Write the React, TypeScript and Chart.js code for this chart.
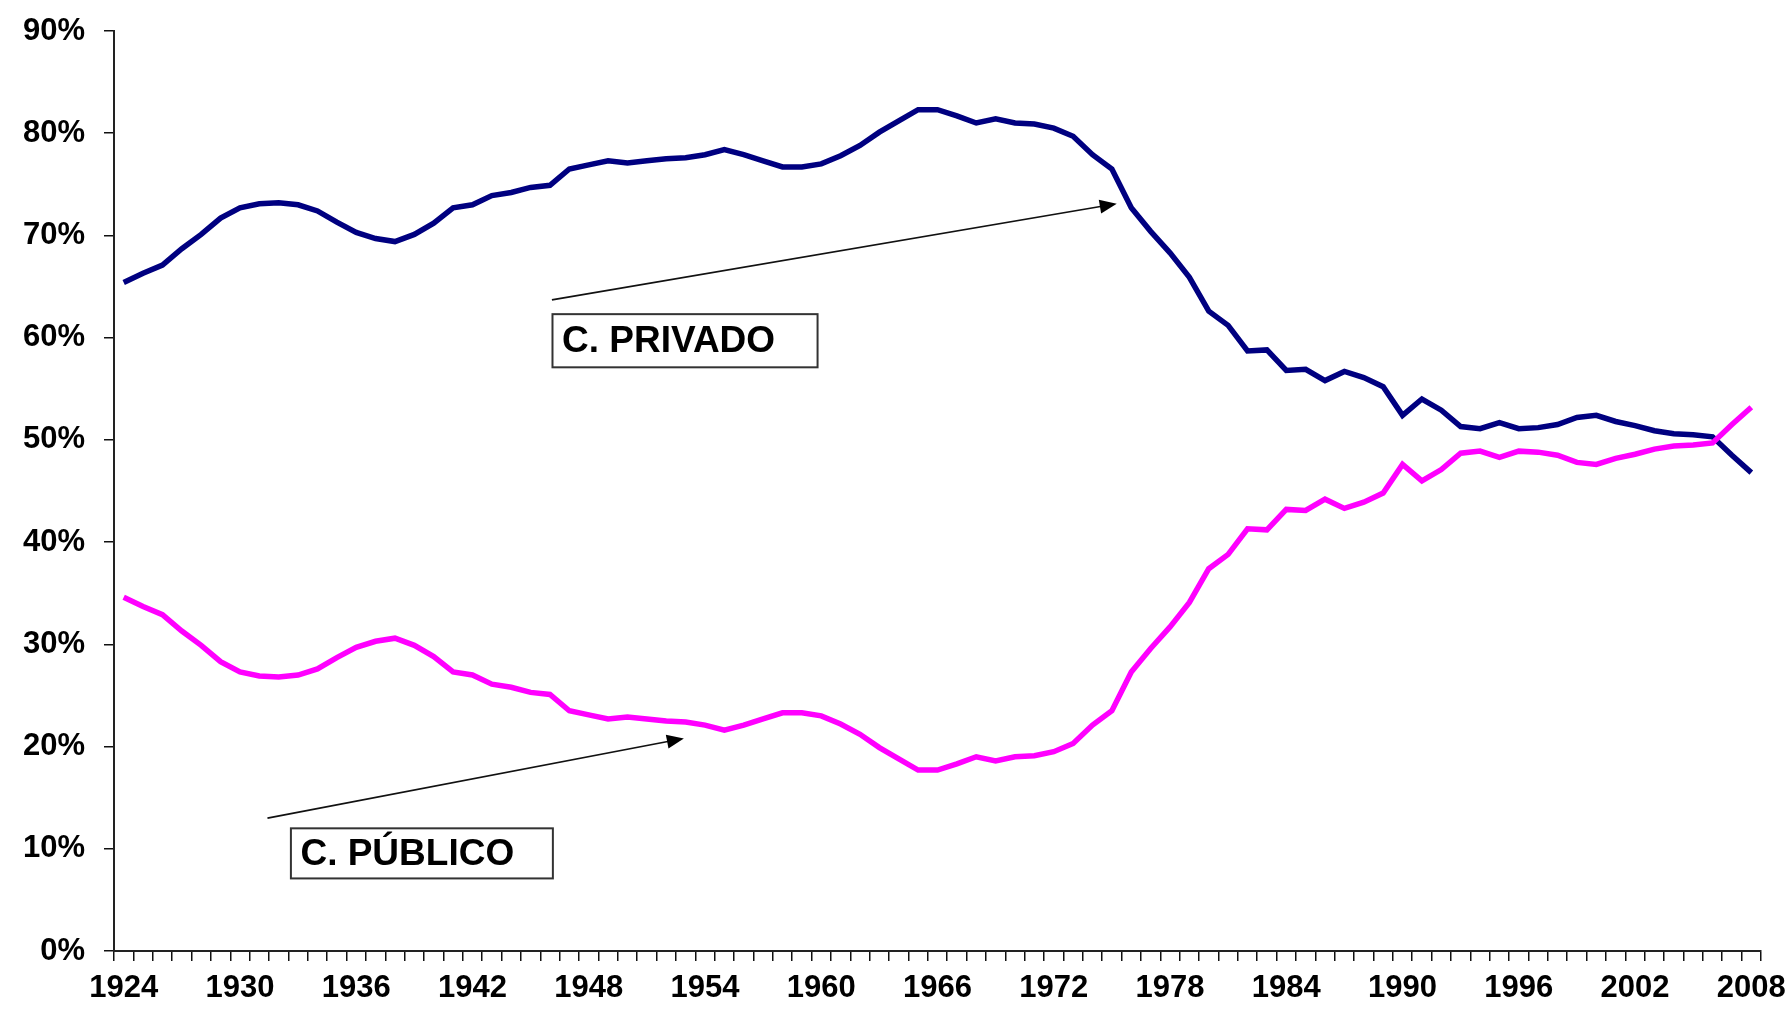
import React, { useEffect, useRef } from 'react';
import { Chart, registerables } from 'chart.js';

Chart.register(...registerables);

const years = [
  1924, 1925, 1926, 1927, 1928, 1929, 1930, 1931, 1932, 1933, 1934, 1935, 1936, 1937, 1938, 1939,
  1940, 1941, 1942, 1943, 1944, 1945, 1946, 1947, 1948, 1949, 1950, 1951, 1952, 1953, 1954, 1955,
  1956, 1957, 1958, 1959, 1960, 1961, 1962, 1963, 1964, 1965, 1966, 1967, 1968, 1969, 1970, 1971,
  1972, 1973, 1974, 1975, 1976, 1977, 1978, 1979, 1980, 1981, 1982, 1983, 1984, 1985, 1986, 1987,
  1988, 1989, 1990, 1991, 1992, 1993, 1994, 1995, 1996, 1997, 1998, 1999, 2000, 2001, 2002, 2003,
  2004, 2005, 2006, 2007, 2008,
];

// Consumo privado (% del total)
const privado = [
  65.4, 66.3, 67.1, 68.7, 70.1, 71.7, 72.7, 73.1, 73.2, 73.0, 72.4, 71.3, 70.3, 69.7, 69.4, 70.1,
  71.2, 72.7, 73.0, 73.9, 74.2, 74.7, 74.9, 76.5, 76.9, 77.3, 77.1, 77.3, 77.5, 77.6, 77.9, 78.4,
  77.9, 77.3, 76.7, 76.7, 77.0, 77.8, 78.8, 80.1, 81.2, 82.3, 82.3, 81.7, 81.0, 81.4, 81.0, 80.9,
  80.5, 79.7, 77.9, 76.5, 72.7, 70.4, 68.3, 65.9, 62.6, 61.2, 58.7, 58.8, 56.8, 56.9, 55.8, 56.7,
  56.1, 55.2, 52.4, 54.0, 52.9, 51.3, 51.1, 51.7, 51.1, 51.2, 51.5, 52.2, 52.4, 51.8, 51.4, 50.9,
  50.6, 50.5, 50.3, 48.5, 46.8,
];

// Consumo público (% del total)
const publico = [
  34.6, 33.7, 32.9, 31.3, 29.9, 28.3, 27.3, 26.9, 26.8, 27.0, 27.6, 28.7, 29.7, 30.3, 30.6, 29.9,
  28.8, 27.3, 27.0, 26.1, 25.8, 25.3, 25.1, 23.5, 23.1, 22.7, 22.9, 22.7, 22.5, 22.4, 22.1, 21.6,
  22.1, 22.7, 23.3, 23.3, 23.0, 22.2, 21.2, 19.9, 18.8, 17.7, 17.7, 18.3, 19.0, 18.6, 19.0, 19.1,
  19.5, 20.3, 22.1, 23.5, 27.3, 29.6, 31.7, 34.1, 37.4, 38.8, 41.3, 41.2, 43.2, 43.1, 44.2, 43.3,
  43.9, 44.8, 47.6, 46.0, 47.1, 48.7, 48.9, 48.3, 48.9, 48.8, 48.5, 47.8, 47.6, 48.2, 48.6, 49.1,
  49.4, 49.5, 49.7, 51.5, 53.2,
];

const xTickLabels = [
  '1924', '1930', '1936', '1942', '1948', '1954', '1960', '1966', '1972', '1978', '1984', '1990',
  '1996', '2002', '2008',
];

const yMin = 0;
const yMax = 90;
const yStep = 10;

// Annotation callouts, positioned in data units (year, percent)
const notePrivado = {
  text: 'C. PRIVADO',
  boxYears: [1946.13, 1959.81],
  boxPct: [62.3, 57.1],
  arrowFrom: [1946.1, 63.7],
  arrowTo: [1975.25, 73.1],
};
const notePublico = {
  text: 'C. PÚBLICO',
  boxYears: [1932.63, 1946.15],
  boxPct: [12.0, 7.1],
  arrowFrom: [1931.42, 13.0],
  arrowTo: [1952.91, 20.8],
};
const notes = [notePrivado, notePublico];

const FONT = "'Liberation Sans', Arial, Helvetica, sans-serif";

const notesPlugin = {
  id: 'notes',
  afterDatasetsDraw(chart: any) {
    const { ctx } = chart;
    const x = chart.scales.x;
    const y = chart.scales.y;
    const px = (yr: number) => x.getPixelForValue(yr - years[0]);
    notes.forEach((n) => {
      ctx.save();
      const x1 = px(n.arrowFrom[0]);
      const y1 = y.getPixelForValue(n.arrowFrom[1]);
      const x2 = px(n.arrowTo[0]);
      const y2 = y.getPixelForValue(n.arrowTo[1]);
      const ang = Math.atan2(y2 - y1, x2 - x1);
      const headLen = 17;
      const headHalf = 7;
      const bx = x2 - headLen * Math.cos(ang);
      const by = y2 - headLen * Math.sin(ang);
      ctx.strokeStyle = '#111';
      ctx.lineWidth = 1.6;
      ctx.beginPath();
      ctx.moveTo(x1, y1);
      ctx.lineTo(bx + 2 * Math.cos(ang), by + 2 * Math.sin(ang));
      ctx.stroke();
      ctx.fillStyle = '#000';
      ctx.beginPath();
      ctx.moveTo(x2, y2);
      ctx.lineTo(bx + headHalf * Math.sin(ang), by - headHalf * Math.cos(ang));
      ctx.lineTo(bx - headHalf * Math.sin(ang), by + headHalf * Math.cos(ang));
      ctx.closePath();
      ctx.fill();

      const l = px(n.boxYears[0]);
      const r = px(n.boxYears[1]);
      const t = y.getPixelForValue(n.boxPct[0]);
      const b = y.getPixelForValue(n.boxPct[1]);
      ctx.fillStyle = '#fff';
      ctx.fillRect(l, t, r - l, b - t);
      ctx.strokeStyle = '#333';
      ctx.lineWidth = 2;
      ctx.strokeRect(l, t, r - l, b - t);
      ctx.fillStyle = '#000';
      ctx.font = `bold 37px ${FONT}`;
      ctx.textBaseline = 'middle';
      ctx.textAlign = 'left';
      ctx.fillText(n.text, l + 9.5, (t + b) / 2 + 1);
      ctx.restore();
    });
  },
};

export default function App() {
  const canvasRef = useRef<HTMLCanvasElement | null>(null);

  useEffect(() => {
    const canvas = canvasRef.current;
    if (!canvas) return;
    const tickFont = { family: FONT, size: 31, weight: 'bold' as const };
    const chart = new Chart(canvas, {
      type: 'line',
      data: {
        labels: years.map(String),
        datasets: [
          {
            label: 'C. PÚBLICO',
            data: publico,
            borderColor: '#FF00FF',
            backgroundColor: '#FF00FF',
            borderWidth: 5.5,
            pointRadius: 0,
            tension: 0,
            fill: false,
            order: 0,
          },
          {
            label: 'C. PRIVADO',
            data: privado,
            borderColor: '#000080',
            backgroundColor: '#000080',
            borderWidth: 5.5,
            pointRadius: 0,
            tension: 0,
            fill: false,
            order: 1,
          },
        ],
      },
      options: {
        animation: false,
        responsive: false,
        maintainAspectRatio: false,
        devicePixelRatio: 1,
        layout: { padding: { left: 0, top: 31, right: 26, bottom: 0 } },
        plugins: {
          legend: { display: false },
          tooltip: { enabled: false },
          title: { display: false },
        },
        scales: {
          x: {
            type: 'category',
            offset: true,
            grid: {
              offset: true,
              drawOnChartArea: false,
              drawTicks: true,
              tickLength: 10,
              color: '#111',
              lineWidth: 1.5,
            },
            border: { display: true, color: '#222', width: 2 },
            ticks: {
              autoSkip: false,
              maxRotation: 0,
              minRotation: 0,
              padding: 9,
              color: '#000',
              font: tickFont,
              callback: (_v: any, i: number) => {
                const lab = String(years[i]);
                return xTickLabels.includes(lab) ? lab : '';
              },
            },
            afterFit: (s: any) => {
              s.height = 64;
              s.paddingLeft = 0;
              s.paddingRight = 0;
            },
          } as any,
          y: {
            min: yMin,
            max: yMax,
            grid: {
              drawOnChartArea: false,
              drawTicks: true,
              tickLength: 10,
              color: '#111',
              lineWidth: 1.5,
            },
            border: { display: true, color: '#222', width: 2 },
            ticks: {
              stepSize: yStep,
              padding: 19,
              color: '#000',
              font: tickFont,
              callback: (v: any) => `${v}%`,
            },
            afterFit: (s: any) => {
              s.width = 114;
              s.paddingTop = 0;
              s.paddingBottom = 0;
            },
          } as any,
        },
      },
      plugins: [notesPlugin],
    });
    return () => chart.destroy();
  }, []);

  return (
    <div
      style={{
        position: 'fixed',
        left: 0,
        top: 0,
        width: 1787,
        height: 1015,
        background: '#fff',
      }}
    >
      <canvas ref={canvasRef} width={1787} height={1015} style={{ width: 1787, height: 1015 }} />
    </div>
  );
}
